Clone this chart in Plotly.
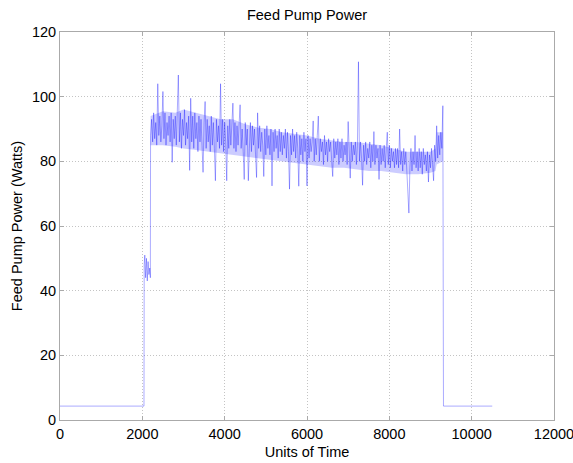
import plotly.graph_objects as go

# ---- data ----
pre_time = [0, 2040, 2045, 2060, 2080, 2100, 2120, 2140, 2160, 2180, 2195]
pre_power = [4.3, 4.3, 48, 51, 44, 50, 43, 49, 45, 47, 44]

main_start = 2200   # first sample of the running segment
main_step = 25      # units of time between samples
main_power = [
    88, 93, 86, 95, 87, 92, 85, 104, 88, 94, 86, 91, 101.6, 87, 95, 85, 92, 88, 94, 86,
    95, 79.7, 93, 87, 94, 85, 100, 106.7, 86, 95, 84, 93, 88, 96, 85, 92, 87, 94, 77.2, 99.5,
    86, 94, 84, 95, 87, 92, 83, 94, 86, 93, 85, 76.6, 92, 98.5, 84, 93, 86, 91, 83, 94,
    85, 92, 84, 74, 93, 86, 91, 84, 104, 85, 93, 83, 92, 86, 74, 91, 84, 93, 85, 90,
    98, 84, 92, 83, 91, 85, 93, 97.5, 84, 90, 83, 74.4, 92, 85, 90, 74, 84, 92, 83, 91,
    85, 90, 82, 75, 95, 84, 91, 83, 89, 85, 75.3, 90, 82, 91, 84, 88, 82, 90, 72.4, 89,
    83, 90, 84, 88, 81, 90, 83, 89, 82, 88, 84, 90, 81, 89, 83, 71.4, 88, 82, 90, 83,
    88, 81, 89, 84, 72.3, 88, 82, 87, 80, 89, 83, 87, 72.4, 88, 81, 87, 83, 86, 92.5, 80,
    87, 82, 88, 94, 80, 87, 83, 86, 79, 88, 82, 86, 80, 87, 83, 86, 80, 75.3, 87, 81,
    86, 82, 87, 79, 86, 81, 87, 80, 85, 82, 86, 79, 92.3, 81, 74.8, 86, 80, 85, 82, 86,
    79, 85, 110.8, 80, 86, 81, 72.6, 85, 80, 86, 79, 84, 81, 86, 78, 85, 80, 89.2, 79, 85,
    81, 84, 74.4, 85, 79, 84, 80, 85, 78, 84, 89, 79, 85, 78, 84, 80, 83, 78, 84, 79,
    84, 78, 90, 79, 83, 77, 84, 79, 83, 77, 67, 64, 78, 84, 77, 83, 79, 88, 78, 83,
    77, 84, 78, 83, 76, 84, 79, 82, 77, 83, 73.6, 82, 78, 84, 79, 74, 85, 80, 91, 81,
    88, 82, 89, 84, 97.2,
]

post_time = [9315, 10500]
post_power = [4.3, 4.3]

# dense oscillation band (upper / lower envelope of the signal)
band_time = [2200, 2500, 2800, 3000, 3300, 3600, 3900, 4200, 4500, 4800, 5100,
             5400, 5700, 6000, 6300, 6600, 6900, 7200, 7500, 7800, 8100, 8400,
             8700, 9000, 9120, 9150, 9300]
band_upper = [94, 95.5, 95, 96, 95, 94, 93, 93, 91.5, 90.5, 90,
              89, 88.5, 88, 87, 86.5, 86, 86, 85.5, 85, 84, 83,
              83, 83, 84, 89, 89]
band_lower = [85, 85, 84.5, 84, 83.5, 83, 82.5, 82, 81.5, 81, 80.5,
              80, 79.5, 79, 78.5, 78, 78, 77.5, 77, 77, 76.5, 76,
              76, 76.5, 77, 79, 80]

x_ticks = [0, 2000, 4000, 6000, 8000, 10000, 12000]
x_tick_text = ["0", "2000", "4000", "6000", "8000", "10000", "12000"]
y_ticks = [0, 20, 40, 60, 80, 100, 120]

# ---- build series ----
main_time = [main_start + main_step * i for i in range(len(main_power))]
time = pre_time + main_time + post_time
power = pre_power + main_power + post_power

fig = go.Figure()
fig.add_trace(go.Scatter(
    x=band_time, y=band_upper, mode="lines", line=dict(width=0),
    hoverinfo="skip", showlegend=False,
))
fig.add_trace(go.Scatter(
    x=band_time, y=band_lower, mode="lines", line=dict(width=0),
    fill="tonexty", fillcolor="rgba(0,0,255,0.2)",
    hoverinfo="skip", showlegend=False,
))
fig.add_trace(go.Scatter(
    x=time, y=power, mode="lines",
    line=dict(color="rgba(0,0,255,0.33)", width=1),
    hoverinfo="skip", showlegend=False,
))

font = "Liberation Sans, Arial, sans-serif"
fs = 14.5
axis_common = dict(
    showline=True, linecolor="#aaaaaa", linewidth=1, mirror="ticks",
    ticks="inside", ticklen=4, tickcolor="#aaaaaa",
    showgrid=True, gridcolor="#c4c4c4", griddash="1px,2px", gridwidth=1,
    zeroline=False, tickfont=dict(family=font, size=fs, color="black"),
    ticklabeloverflow="allow", automargin=False,
)

fig.update_layout(
    width=573, height=463,
    margin=dict(l=60, r=19, t=32, b=43, autoexpand=False),
    paper_bgcolor="white", plot_bgcolor="white",
    font=dict(family=font, size=fs, color="black"),
    title=dict(text="Feed Pump Power", x=0.5, xref="paper", y=0.968,
               xanchor="center", yanchor="middle",
               font=dict(family=font, size=fs, color="black")),
    xaxis=dict(range=[0, 12000], tickvals=x_ticks, ticktext=x_tick_text,
               ticklabelstandoff=1,
               title=dict(text="Units of Time", standoff=5,
                          font=dict(family=font, size=fs)),
               **axis_common),
    yaxis=dict(range=[0, 120], tickvals=y_ticks,
               title=dict(text="Feed Pump Power (Watts)", standoff=5,
                          font=dict(family=font, size=fs)),
               **axis_common),
)

fig.write_html("out.html")
